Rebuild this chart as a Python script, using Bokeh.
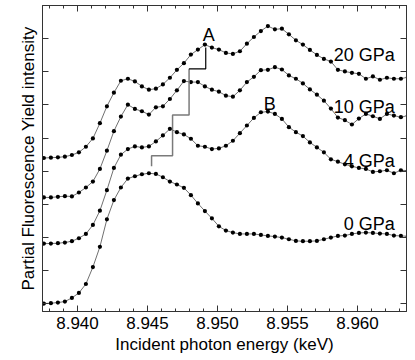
from bokeh.plotting import figure
from bokeh.models import (LinearAxis, SingleIntervalTicker, PrintfTickFormatter,
                          Range1d, ColumnDataSource)
from bokeh.core.properties import value
from bokeh.embed import file_html
from bokeh.resources import INLINE

# ---------------- data ----------------
energy_keV = [8.9376, 8.9381, 8.9386, 8.9391, 8.9396, 8.9401, 8.9406, 8.9411, 8.9416, 8.9421,
              8.9426, 8.9431, 8.9436, 8.9441, 8.9446, 8.9451, 8.9456, 8.9461, 8.9466, 8.9471,
              8.9476, 8.9481, 8.9486, 8.9491, 8.9496, 8.9501, 8.9506, 8.9511, 8.9516, 8.9521,
              8.9526, 8.9531, 8.9536, 8.9541, 8.9546, 8.9551, 8.9556, 8.9561, 8.9566, 8.9571,
              8.9576, 8.9581, 8.9586, 8.9591, 8.9596, 8.9601, 8.9606, 8.9611, 8.9616, 8.9621,
              8.9626, 8.9631, 8.9636]

pfy_0GPa = [0.01, 0.02, 0.04, 0.07, 0.18, 0.33, 0.60, 1.11, 1.72, 2.55,
            3.13, 3.51, 3.78, 3.85, 3.91, 3.94, 3.92, 3.82, 3.69, 3.60,
            3.50, 3.28, 3.03, 2.80, 2.58, 2.34, 2.21, 2.15, 2.11, 2.11,
            2.11, 2.08, 2.05, 2.03, 2.00, 1.95, 1.90, 1.89, 1.89, 1.90,
            1.95, 2.00, 2.05, 2.06, 2.11, 2.14, 2.15, 2.14, 2.12, 2.11,
            2.06, 2.05, 2.04]

pfy_4GPa = [1.82, 1.82, 1.83, 1.85, 1.89, 1.98, 2.11, 2.38, 2.81, 3.43,
            4.10, 4.50, 4.67, 4.75, 4.72, 4.75, 4.90, 5.08, 5.28, 5.18,
            5.11, 4.98, 4.77, 4.74, 4.67, 4.69, 4.77, 4.92, 5.15, 5.38,
            5.61, 5.78, 5.80, 5.73, 5.58, 5.33, 5.18, 5.06, 4.87, 4.72,
            4.57, 4.36, 4.29, 4.21, 4.15, 4.10, 4.07, 3.98, 4.00, 4.03,
            3.94, 4.03, 4.02]

pfy_10GPa = [3.21, 3.21, 3.23, 3.25, 3.24, 3.36, 3.51, 3.69, 4.07, 4.62,
             5.21, 5.65, 6.01, 5.88, 5.81, 5.71, 5.93, 5.96, 6.18, 6.44,
             6.72, 6.69, 6.69, 6.56, 6.46, 6.40, 6.28, 6.25, 6.44, 6.69,
             6.85, 7.05, 7.06, 7.14, 7.07, 6.89, 6.79, 6.65, 6.47, 6.31,
             6.13, 5.89, 5.62, 5.54, 5.41, 5.59, 5.73, 5.66, 5.58, 5.73,
             5.68, 5.63, 5.68]

pfy_20GPa = [4.40, 4.41, 4.42, 4.44, 4.49, 4.57, 4.74, 4.99, 5.45, 5.96,
             6.37, 6.73, 6.79, 6.71, 6.56, 6.46, 6.49, 6.62, 6.82, 7.06,
             7.26, 7.52, 7.67, 7.82, 7.73, 7.67, 7.57, 7.54, 7.62, 7.85,
             8.05, 8.23, 8.38, 8.28, 8.30, 8.13, 7.95, 7.82, 7.66, 7.51,
             7.39, 7.31, 7.06, 7.01, 6.97, 6.94, 6.79, 6.86, 6.76, 6.82,
             6.79, 6.79, 6.84]

series = [pfy_0GPa, pfy_4GPa, pfy_10GPa, pfy_20GPa]

pressure_labels = ["20 GPa", "10 GPa", "4 GPa", "0 GPa"]
pressure_label_x = [8.96266, 8.96266, 8.96266, 8.96266]
pressure_label_y = [7.51, 5.93, 4.32, 2.41]

peak_labels = ["A", "B"]
peak_label_x = [8.94938, 8.95374]
peak_label_y = [8.10, 6.03]

# staircase marking the shift of peak A
step_gray_x = [8.94529, 8.94529, 8.94679, 8.94679, 8.94797, 8.94797]
step_gray_y = [4.15, 4.47, 4.47, 5.70, 5.70, 7.09]
step_black_x = [8.94797, 8.94916, 8.94916]
step_black_y = [7.09, 7.09, 7.73]

x_tick_interval = 0.005
y_tick_interval = 1

FONT = "Liberation Sans"

# ---------------- figure ----------------
p = figure(frame_width=364, frame_height=306,
           x_range=Range1d(8.9375, 8.9635), y_range=Range1d(-0.23, 9.0),
           output_backend="svg", toolbar_location=None,
           x_axis_location=None, y_axis_location=None,
           min_border_left=42, min_border_right=4, min_border_top=5, min_border_bottom=0)
p.grid.visible = False
p.outline_line_color = "#333333"
p.background_fill_color = "white"
p.border_fill_color = "white"

def style_axis(ax, labels=True):
    ax.axis_line_color = "#333333"
    ax.major_tick_line_color = "#333333"
    ax.minor_tick_line_color = "#333333"
    ax.major_tick_in = 6
    ax.major_tick_out = 0
    ax.minor_tick_in = 3
    ax.minor_tick_out = 0
    if not labels:
        ax.major_label_text_font_size = "0px"
        ax.major_label_text_alpha = 0
        ax.major_label_standoff = 0

xt = SingleIntervalTicker(interval=x_tick_interval, num_minor_ticks=5)
yt = SingleIntervalTicker(interval=y_tick_interval, num_minor_ticks=0)

xb = LinearAxis(ticker=xt, formatter=PrintfTickFormatter(format="%.3f"),
                axis_label="Incident photon energy (keV)")
style_axis(xb)
xb.major_label_text_font = FONT
xb.major_label_text_font_size = "17px"
xb.major_label_text_color = "black"
xb.major_label_standoff = 5
xb.axis_label_text_font = FONT
xb.axis_label_text_font_size = "17px"
xb.axis_label_text_font_style = "normal"
xb.axis_label_text_color = "black"
xb.axis_label_standoff = 3
p.add_layout(xb, "below")

xa = LinearAxis(ticker=xt)
style_axis(xa, labels=False)
p.add_layout(xa, "above")

yl = LinearAxis(ticker=yt, axis_label="Partial Fluorescence Yield intensity")
style_axis(yl, labels=False)
yl.axis_label_text_font = FONT
yl.axis_label_text_font_size = "17px"
yl.axis_label_text_font_style = "normal"
yl.axis_label_text_color = "black"
yl.axis_label_standoff = 5
p.add_layout(yl, "left")

yr = LinearAxis(ticker=yt)
style_axis(yr, labels=False)
p.add_layout(yr, "right")

# curves
for s in series:
    src = ColumnDataSource(dict(x=energy_keV, y=s))
    p.line("x", "y", source=src, line_color="#707070", line_width=1)
    p.scatter("x", "y", source=src, size=4.2, fill_color="black", line_color=None)

# staircase
p.line(step_gray_x, step_gray_y, line_color="#7a7a7a", line_width=1.5)
p.line(step_black_x, step_black_y, line_color="black", line_width=1.2)

# labels
p.text(x=pressure_label_x, y=pressure_label_y, text=pressure_labels,
       text_font=value(FONT), text_font_size="18px", text_color="black",
       text_align="right", text_baseline="alphabetic")
p.text(x=peak_label_x, y=peak_label_y, text=peak_labels,
       text_font=value(FONT), text_font_size="18px", text_color="black",
       text_align="center", text_baseline="alphabetic")

open("out.html", "w").write(file_html(p, INLINE))
